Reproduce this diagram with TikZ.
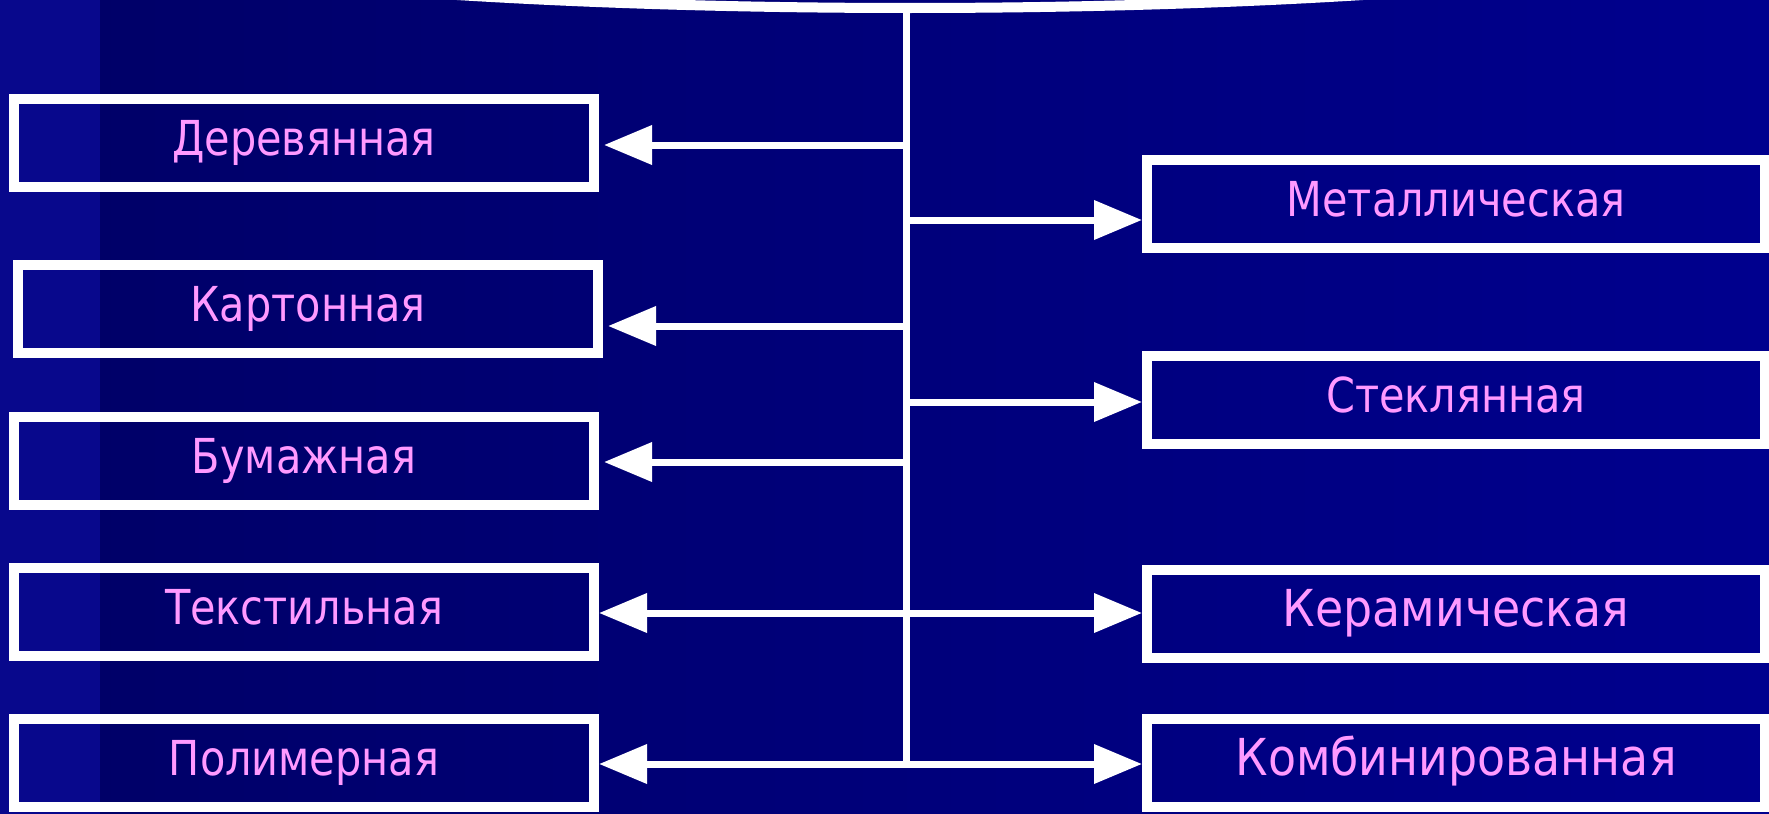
\documentclass[tikz,border=0pt]{standalone}
\usepackage{fontspec}
\newfontfamily\boxfont[FakeStretch=0.86]{DejaVu Sans}
\newfontfamily\bigboxfont[FakeStretch=0.9]{DejaVu Sans}
\usetikzlibrary{arrows.meta}
\definecolor{slidebg}{HTML}{000066}
\definecolor{slideright}{HTML}{00008E}
\definecolor{slidestrip}{HTML}{08088C}
\definecolor{labelpink}{HTML}{FF99FF}

\begin{document}
\begin{tikzpicture}[>={Triangle[length=0.48cm,width=0.38cm]},
  kind/.style={draw=white, line width=0.1cm, minimum width=5.8cm, minimum height=0.88cm,
    inner sep=0pt, text=labelpink, font=\boxfont\fontsize{13.7pt}{16pt}\selectfont,
    text height=0.35cm, text depth=0.1cm},
  wide/.style={kind, minimum width=6.18cm},
  bigwide/.style={wide, font=\bigboxfont\fontsize{14.5pt}{17pt}\selectfont},
  link/.style={white, line width=0.07cm}]
  % background
  \useasboundingbox (0,0) rectangle (17.69,-8.14);
  \shade[left color=slidebg, right color=slideright] (0,0) rectangle (17.69,-8.14);
  \fill[slidestrip] (0,0) rectangle (1.0,-8.14);

  % top shape, only its lower edge shows
  \begin{scope}
    \clip (0,0) rectangle (17.69,-8.14);
    \draw[white, line width=0.1cm] (9.10,0.92) ellipse (9.18cm and 1.0cm);
  \end{scope}

  % left column
  \node[kind] (der) at (3.04,-1.43) {Деревянная};
  \node[kind] (kar) at (3.08,-3.09) {Картонная};
  \node[kind] (bum) at (3.04,-4.605) {Бумажная};
  \node[kind] (tek) at (3.04,-6.12) {Текстильная};
  \node[kind] (pol) at (3.04,-7.63) {Полимерная};

  % right column
  \node[wide] (met) at (14.56,-2.035) {Металлическая};
  \node[wide] (ste) at (14.56,-4.00) {Стеклянная};
  \node[bigwide] (ker) at (14.56,-6.14) {Керамическая};
  \node[bigwide] (kom) at (14.56,-7.63) {Комбинированная};

  % trunk
  \coordinate (top) at (9.06,-0.1);
  \coordinate (bot) at (9.06,-7.67);
  \draw[link] (top) -- (bot);

  % branches
  \foreach \n/\y in {der/1.45, kar/3.26, bum/4.62, tek/6.13, pol/7.64,
                     met/2.20, ste/4.02, ker/6.13, kom/7.64}
    \coordinate (j\n) at (9.06,-\y);
  \foreach \n in {der,kar,bum}
    \draw[link,->,shorten >=0.05cm] (j\n) -- (j\n -| \n.east);
  \foreach \n in {tek,pol}
    \draw[link,->] (j\n) -- (j\n -| \n.east);
  \foreach \n in {met,ste,ker,kom}
    \draw[link,->] (j\n) -- (j\n -| \n.west);
\end{tikzpicture}
\end{document}
